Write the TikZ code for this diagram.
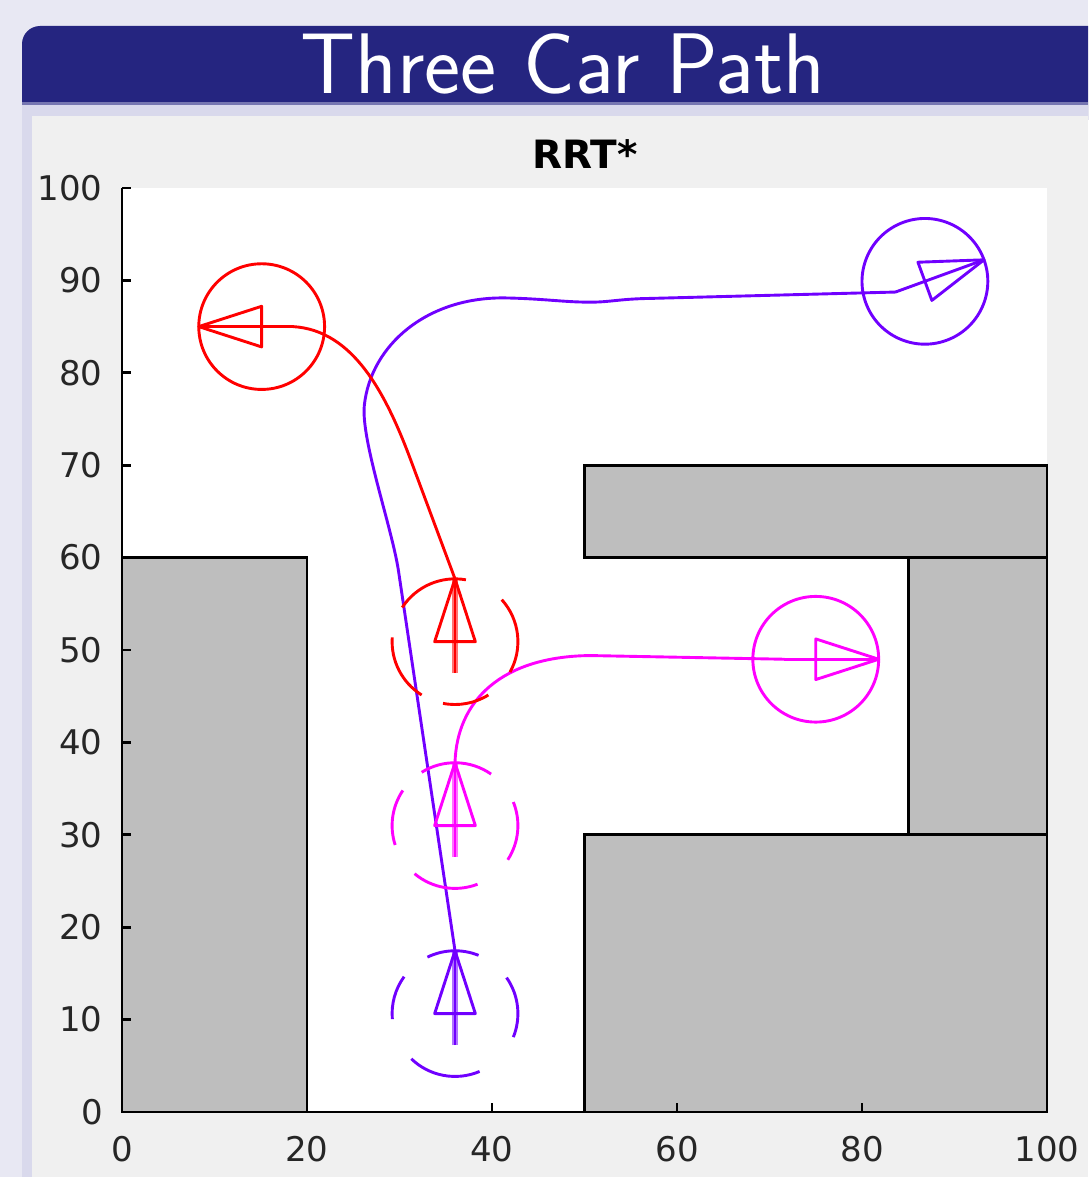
\documentclass[tikz,border=0pt]{standalone}
\usepackage{fontspec}
\newfontfamily\plotfont{DejaVu Sans}
\definecolor{pagebg}{RGB}{232,232,243}
\definecolor{titlebar}{RGB}{37,37,128}
\definecolor{blockbody}{RGB}{217,217,236}
\definecolor{figbg}{RGB}{240,240,240}
\definecolor{obstacle}{RGB}{190,190,190}
\definecolor{ticktext}{RGB}{38,38,38}
\definecolor{carred}{RGB}{255,0,0}
\definecolor{carmag}{RGB}{255,0,255}
\definecolor{carblue}{RGB}{112,0,255}

\tikzset{
  path line/.style={line width=1.45pt, line join=round, line cap=round},
  obstacle box/.style={fill=obstacle, draw=black, line width=1.4pt},
  axis line/.style={draw=black, line width=1.4pt},
  tick label/.style={font=\plotfont\fontsize{17}{20}\selectfont, text=ticktext, inner sep=0pt},
  dash arc/.style={line width=1.45pt},
  % goal pose: solid circle, heading arrow along +x (rotate to the heading)
  pics/goalcar/.style={code={
    \draw[line width=1.45pt] (0,0) circle[radius=6.8];
    \draw[line width=1.45pt, line join=round] (6.8,0) -- (0,2.2) -- (0,-2.2) -- cycle;
    \draw[line width=1.45pt] (-3.4,0) -- (6.8,0);
  }},
  % start pose: heading arrow pointing up (dashed circle drawn separately)
  pics/startcar/.style={code={
    \draw[line width=1.45pt, line join=round] (0,6.8) -- (-2.2,0) -- (2.2,0) -- cycle;
    \draw[line width=2.6pt, opacity=0.55] (0,-3.4) -- (0,6.8);
    \draw[line width=1.45pt] (0,-3.4) -- (0,6.8);
  }},
}

\begin{document}
\begin{tikzpicture}[x=0.5pt, y=-0.5pt]
  \useasboundingbox (0,0) rectangle (1088,1177);
  \clip (0,0) rectangle (1088,1177);

  % slide background and frame title block
  \fill[pagebg] (0,0) rectangle (1088,1177);
  \fill[titlebar, rounded corners=9] (22,26) rectangle (1110,120);
  \fill[blockbody] (22,102) rectangle (1088,1177);
  \fill[titlebar!55!blockbody] (22,102) rectangle (1088,105);
  \node[font=\sffamily\fontsize{43}{50}\selectfont, text=white, anchor=base, inner sep=0pt]
    (title) at (563,94) {Three Car Path};

  % figure canvas
  \fill[figbg] (32,116) rectangle (1088,1177);

  \begin{scope}[shift={(61pt,-556pt)}, x=4.625pt, y=4.62pt]
    \fill[white] (0,0) rectangle (100,100);

    % obstacles
    \draw[obstacle box] (0,0) rectangle (20,60);
    \draw[obstacle box] (50,60) rectangle (100,70);
    \draw[obstacle box] (85,30) rectangle (100,60);
    \draw[obstacle box] (50,0) rectangle (100,30);

    % axes and ticks
    \draw[axis line] (0,100) -- (0,0) -- (100,0);
    \foreach \v in {0,10,...,100} \draw[axis line] (0,\v) -- (1.0,\v);
    \foreach \u in {0,20,...,100} \draw[axis line] (\u,0) -- (\u,1.0);
    \foreach \v in {0,10,...,100}
      \node[tick label, anchor=east] (ylab\v) at (-2.05,\v) {\v};
    \foreach \u in {0,20,...,100}
      \node[tick label] (xlab\u) at (\u,-4.05) {\u};
    \node[font=\plotfont\bfseries\fontsize{19.5}{23}\selectfont, inner sep=0pt]
      (plottitle) at (50.05,103.7) {RRT*};

    % car poses
    \coordinate (redStart)  at (36,50.9);
    \coordinate (magStart)  at (36,31.0);
    \coordinate (blueStart) at (36,10.65);
    \coordinate (redGoal)   at (15.1,85.0);
    \coordinate (magGoal)   at (75.0,49.0);
    \coordinate (blueGoal)  at (86.8,89.9);

    % planned paths
    \draw[path line, carblue] (36.0,17.45) -- (29.9,58.5)
      .. controls (29.2,63.2) and (25.8,72.8) .. (26.2,76.5)
      .. controls (26.9,83.0) and (33.0,88.3) .. (41.6,88.1)
      .. controls (46.0,88.0) and (48.0,87.6) .. (51.1,87.65)
      .. controls (53.0,87.7) and (54.0,88.0) .. (57.1,88.05)
      -- (83.6,88.74);
    \draw[path line, carred] (36,57.7) -- (31.2,70.6)
      .. controls (28.5,77.8) and (25.0,84.6) .. (18.5,85.0);
    \draw[path line, carmag] (36,37.8)
      .. controls (36.2,44.5) and (41.0,49.3) .. (50.6,49.4)
      -- (71.6,49.0);

    % start poses with dashed circles
    \pic[color=carred] at (redStart) {startcar};
    \pic[color=carmag] at (magStart) {startcar};
    \pic[color=carblue] at (blueStart) {startcar};
    \foreach \a/\b in {-29/42, 80/147, 176/238, 259/302}
      \draw[dash arc, carred] ([shift={(\a:6.8)}]redStart)
        arc[start angle=\a, end angle=\b, radius=6.8];
    \foreach \a/\b in {-33/22, 55/122, 146/198, 230/291}
      \draw[dash arc, carmag] ([shift={(\a:6.8)}]magStart)
        arc[start angle=\a, end angle=\b, radius=6.8];
    \foreach \a/\b in {-22/35, 68/116, 144/185, 226/293}
      \draw[dash arc, carblue] ([shift={(\a:6.8)}]blueStart)
        arc[start angle=\a, end angle=\b, radius=6.8];

    % goal poses
    \pic[color=carred, rotate=180] at (redGoal) {goalcar};
    \pic[color=carmag] at (magGoal) {goalcar};
    \pic[color=carblue, rotate=20] at (blueGoal) {goalcar};
  \end{scope}
\end{tikzpicture}
\end{document}
